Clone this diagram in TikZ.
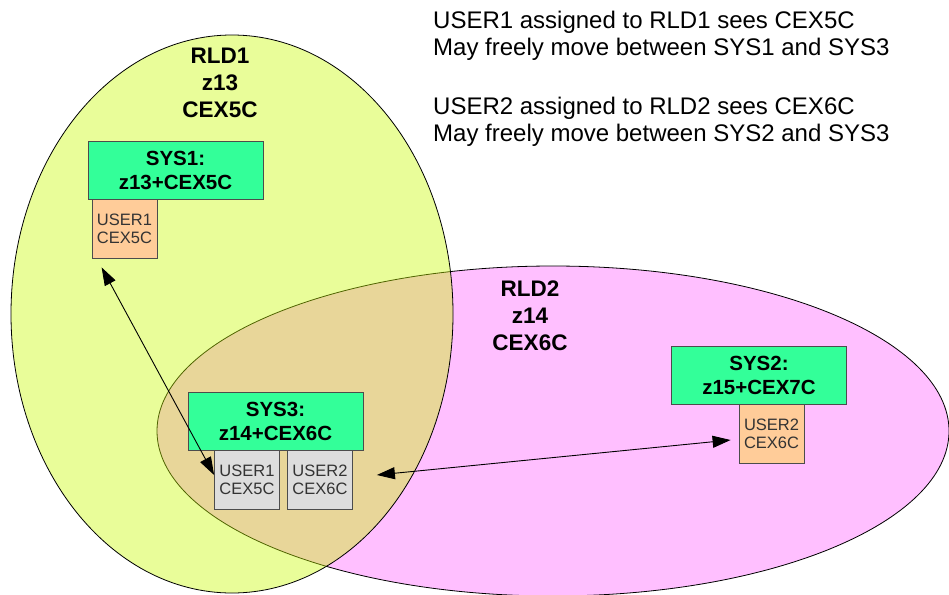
\documentclass[tikz,border=0pt]{standalone}
\usepackage{fontspec}
\setmainfont{Liberation Sans}
\usetikzlibrary{arrows.meta}
\definecolor{rldyellow}{RGB}{199,250,0}
\definecolor{rldpink}{RGB}{255,191,255}
\definecolor{sysgreen}{RGB}{51,255,153}
\definecolor{userorange}{RGB}{255,204,153}
\definecolor{usergray}{RGB}{221,221,221}
\tikzset{
  sysbox/.style={draw=black!70, fill=sysgreen, line width=0.8pt, inner sep=0pt,
    minimum width=175pt, minimum height=58pt, align=center,
    font=\fontsize{20.5}{24}\selectfont\bfseries},
  userbox/.style={draw=black!70, line width=0.8pt, inner sep=0pt,
    minimum width=65pt, minimum height=59pt, align=center, text=black!80,
    font=\fontsize{16.5}{18}\selectfont},
  rldlabel/.style={align=center, font=\fontsize{22.5}{27}\selectfont\bfseries},
  notetext/.style={align=left, anchor=north west, inner sep=0pt,
    font=\fontsize{24}{27}\selectfont},
  move/.style={<->, line width=0.9pt, >={Triangle[length=18pt,width=12pt]}},
}
\begin{document}
\begin{tikzpicture}[x=1pt, y=-1pt, line cap=round]
            \useasboundingbox (0,0) rectangle (949,594);
            \draw[fill=rldpink, line width=0.8pt] (553,431) ellipse [x radius=396pt, y radius=165pt];   %rld2
            \draw[fill=rldyellow, fill opacity=0.4, line width=0.8pt] (232,314) ellipse [x radius=221pt, y radius=279pt];   %rld1
            \node[rldlabel] (rldone) at (220,83) {RLD1\\z13\\CEX5C};
            \node[rldlabel] (rldtwo) at (530,316) {RLD2\\z14\\CEX6C};
            % systems
            \node[sysbox] (sysone) at (175.5,170) {SYS1:\\z13+CEX5C};
            \node[sysbox] (systhree) at (275.5,421.5) {SYS3:\\z14+CEX6C};
            \node[sysbox] (systwo) at (759,375) {SYS2:\\z15+CEX7C};
            % users
            \node[userbox, fill=userorange] (usrone) at (124.5,228.5) {USER1\\CEX5C};
            \node[userbox, fill=usergray] (usronethree) at (247,480) {USER1\\CEX5C};
            \node[userbox, fill=usergray] (usrtwothree) at (320,480) {USER2\\CEX6C};
            \node[userbox, fill=userorange] (usrtwo) at (771.5,434) {USER2\\CEX6C};
            % moves
            \draw[move] ([xshift=10pt,yshift=-9pt]usrone.south west) -- ([yshift=5pt]usronethree.west);   %user1
            \draw[move] ([xshift=24pt,yshift=5pt]usrtwothree.east) -- ([xshift=-8pt,yshift=-6pt]usrtwo.west);   %user2
            % notes
            \node[notetext] (noteone) at (433,11) {USER1 assigned to RLD1 sees CEX5C\\May freely move between SYS1 and SYS3};
            \node[notetext] (notetwo) at (433,97) {USER2 assigned to RLD2 sees CEX6C\\May freely move between SYS2 and SYS3};
        \end{tikzpicture}
\end{document}
